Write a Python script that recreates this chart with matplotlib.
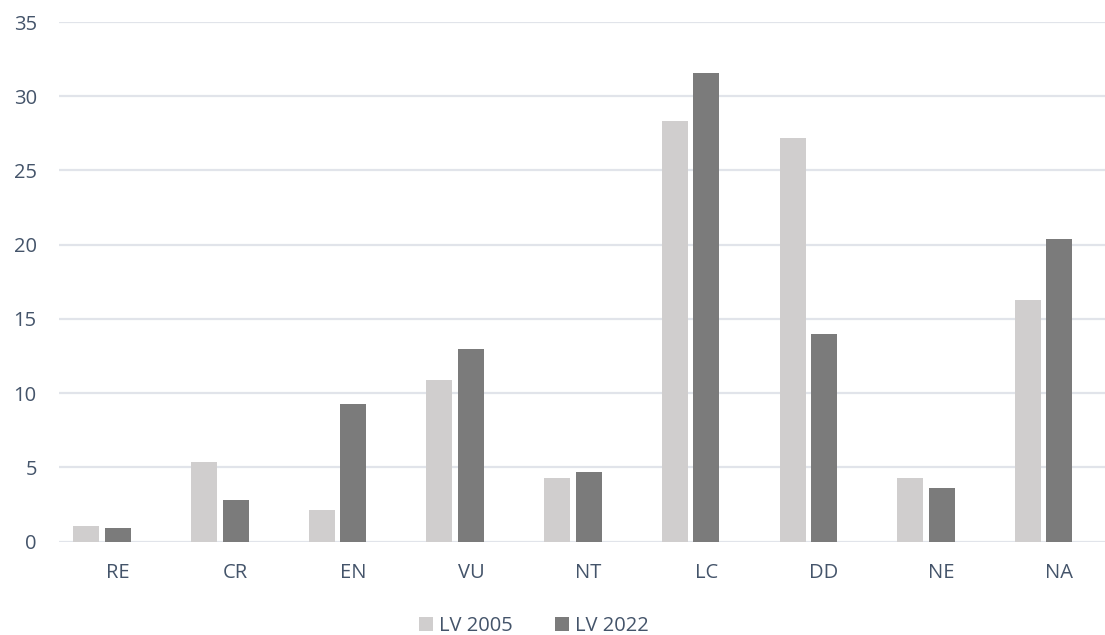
import matplotlib
matplotlib.use("Agg")
import matplotlib.pyplot as plt
import numpy as np

categories = ["RE", "CR", "EN", "VU", "NT", "LC", "DD", "NE", "NA"]
lv2005 = [1.08, 5.4, 2.16, 10.9, 4.3, 28.3, 27.2, 4.3, 16.3]
lv2022 = [0.94, 2.83, 9.24, 13.0, 4.7, 31.55, 13.96, 3.64, 20.4]
series_labels = ["LV 2005", "LV 2022"]
yticks = [0, 5, 10, 15, 20, 25, 30, 35]

text_color = "#44546A"
grid_color = "#E1E4EA"
c2005 = "#D0CECE"
c2022 = "#7B7B7B"

plt.rcParams['font.family'] = ['Open Sans', 'DejaVu Sans']

W, H = 1105, 635
fig = plt.figure(figsize=(W / 100, H / 100), dpi=100)
left, right = 59 / W, (59 + 9 * 117.7) / W
bottom, top = 1 - 541.7 / H, 1 - 22 / H
ax = fig.add_axes([left, bottom, right - left, top - bottom])

x = np.arange(len(categories))
bw = 0.221
ax.bar(x - 0.268, lv2005, width=bw, color=c2005, label=series_labels[0], zorder=3)
ax.bar(x, lv2022, width=bw, color=c2022, label=series_labels[1], zorder=3)

fs = 14.5
ax.set_xlim(-0.5, len(categories) - 0.5)
ax.set_ylim(0, 35)
ax.set_yticks(yticks)
ax.set_xticks(x)
ax.set_xticklabels(categories)
ax.tick_params(axis='both', length=0, labelsize=fs, colors=text_color)
ax.tick_params(axis='x', pad=15)
ax.tick_params(axis='y', pad=16)
ax.grid(axis='y', color=grid_color, linewidth=1.6, zorder=0)
for s in ax.spines.values():
    s.set_visible(False)

leg = fig.legend(loc='center', bbox_to_anchor=(534 / W, 1 - 626 / H), ncol=2,
                 frameon=False, fontsize=fs, handlelength=0.7, handleheight=0.7,
                 handletextpad=0.3, columnspacing=2.1)
for t in leg.get_texts():
    t.set_color(text_color)

fig.savefig("out.png", dpi=100)
